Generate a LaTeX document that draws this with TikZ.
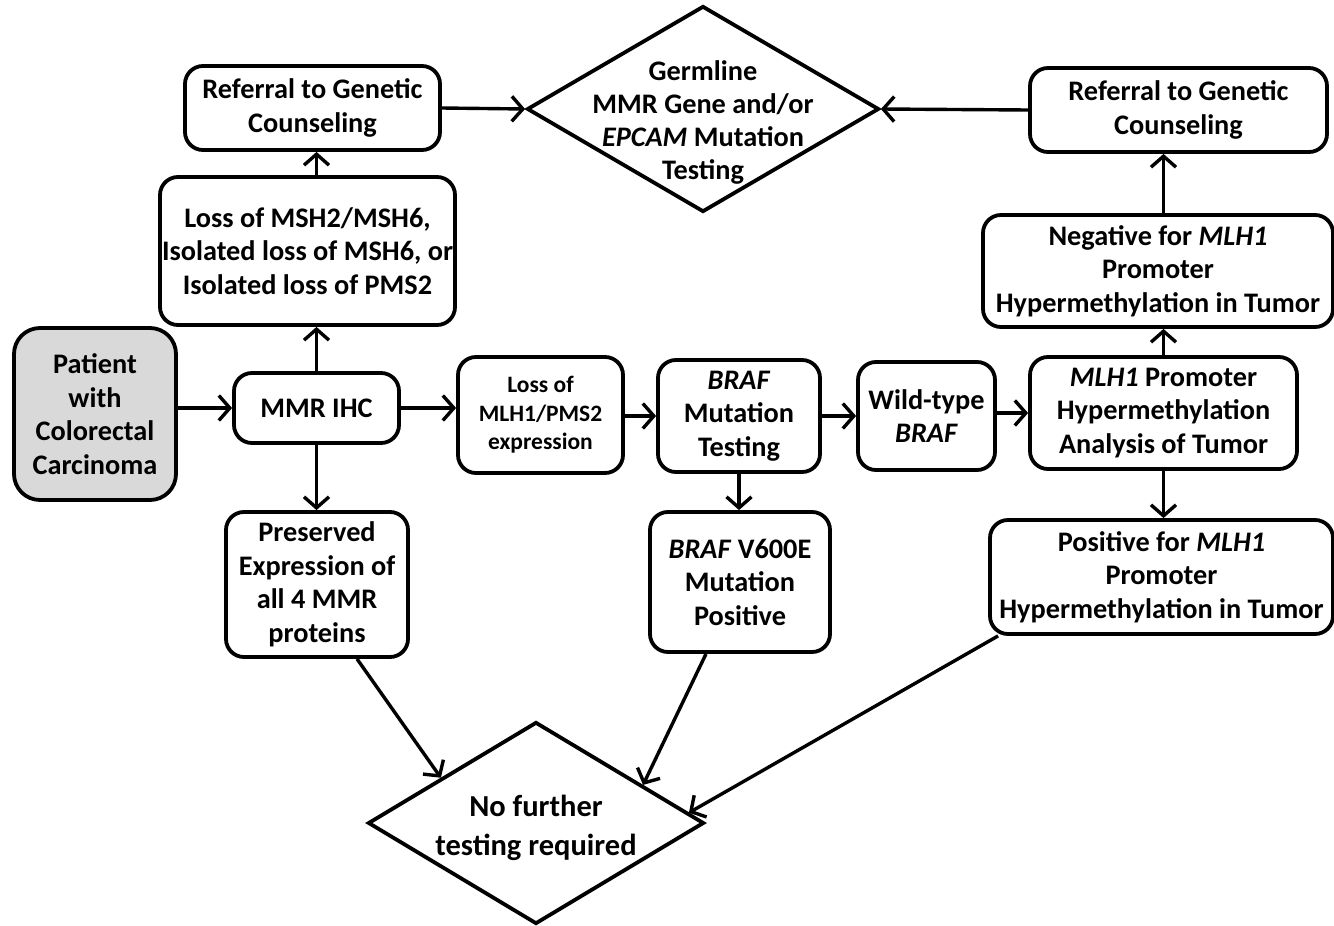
\documentclass[tikz,border=0pt]{standalone}
\usepackage{fontspec}
\setmainfont{Carlito}
\usetikzlibrary{arrows.meta,shapes.geometric,calc}
\definecolor{patgray}{HTML}{D9D9D9}
\begin{document}
\begin{tikzpicture}[x=1pt,y=-1pt,
 box/.style={draw, line width=3.8pt, rounded corners=18pt, align=center, inner sep=0pt,
   font=\bfseries\fontsize{28.3}{33.5}\selectfont},
 smalltext/.style={font=\bfseries\fontsize{23.5}{28.5}\selectfont},
 dia/.style={draw, shape=diamond, line width=3.8pt, inner sep=0pt},
 arr/.style={line width=3.4pt, -{Straight Barb[length=11pt,width=25pt]}},
]
\useasboundingbox (0,0) rectangle (1334,926);

\node[box, fill=patgray, rounded corners=26pt, minimum width=162pt, minimum height=172pt] (pat) at (95,414) {Patient\\with\\Colorectal\\Carcinoma};
\node[box, minimum width=165pt, minimum height=70pt] (mmr) at (316.5,408) {MMR IHC};
\node[box, minimum width=295pt, minimum height=148pt] (msh) at (307.5,251) {Loss of MSH2/MSH6,\\Isolated loss of MSH6, or\\Isolated loss of PMS2};
\node[box, minimum width=255pt, minimum height=84pt] (refl) at (312.5,108) {Referral to Genetic\\Counseling};
\node[dia, minimum width=352pt, minimum height=206pt,
  label={[align=center, font=\bfseries\fontsize{28.3}{33}\selectfont, yshift=-13pt]center:Germline\\MMR Gene and/or\\\textit{EPCAM} Mutation\\Testing}] (germ) at (703,109) {};
\node[box, minimum width=297pt, minimum height=84pt] (refr) at (1178.5,110) {Referral to Genetic\\Counseling};
\node[box, minimum width=350pt, minimum height=112pt] (neg) at (1158,271) {Negative for \textit{MLH1}\\Promoter\\Hypermethylation in Tumor};
\node[box, minimum width=267pt, minimum height=112pt] (prom) at (1163.5,413) {\textit{MLH1} Promoter\\Hypermethylation\\Analysis of Tumor};
\node[box, minimum width=343pt, minimum height=114pt] (pos) at (1161.5,577) {Positive for \textit{MLH1}\\Promoter\\Hypermethylation in Tumor};
\node[box, smalltext, minimum width=165pt, minimum height=116pt] (lmlh) at (540.5,415) {Loss of\\MLH1/PMS2\\expression};
\node[box, minimum width=162pt, minimum height=112pt] (braf) at (739,416) {\textit{BRAF}\\Mutation\\Testing};
\node[box, minimum width=137pt, minimum height=108pt] (wt) at (926.5,416) {Wild-type\\\textit{BRAF}};
\node[box, minimum width=182pt, minimum height=145pt] (pres) at (317,584.5) {Preserved\\Expression of\\all 4 MMR\\proteins};
\node[box, minimum width=180pt, minimum height=140pt] (v600) at (740,582) {\textit{BRAF} V600E\\Mutation\\Positive};
\node[dia, minimum width=336pt, minimum height=202pt,
  label={[align=center, font=\bfseries\fontsize{30.5}{39}\selectfont, yshift=-5pt]center:No further\\testing required}] (nf) at (536,823) {};

\draw[arr] (pat.east |- mmr.west) -- (mmr.west);
\draw[arr] (mmr.east) -- (mmr.east -| lmlh.west);
\draw[arr] (lmlh.east |- braf) -- (braf.west);
\draw[arr] (braf.east |- wt) -- (wt.west);
\draw[arr] (wt.east |- prom) -- (prom.west);
\draw[arr] (mmr.north) -- (mmr.north |- msh.south);
\draw[arr] (mmr.south) -- (mmr.south |- pres.north);
\draw[arr] (mmr |- msh.north) -- (mmr |- refl.south);
\draw[arr] (refl.east) -- (germ.west);
\draw[arr] (refr.west) -- (germ.east);
\draw[arr] (braf.south) -- (braf.south |- v600.north);
\draw[arr] (prom.north) -- (prom.north |- neg.south);
\draw[arr] (prom |- neg.north) -- (prom |- refr.south);
\draw[arr] (prom.south) -- (prom.south |- pos.north);
\draw[arr] ([xshift=40pt]pres.south) -- ($(nf.west)!0.44!(nf.north)$);
\draw[arr] ([xshift=-34pt]v600.south) -- ($(nf.north)!0.63!(nf.east)$);
\draw[arr] ([xshift=10pt]pos.south west) -- ($(nf.north)!0.9!(nf.east)$);
\end{tikzpicture}
\end{document}
